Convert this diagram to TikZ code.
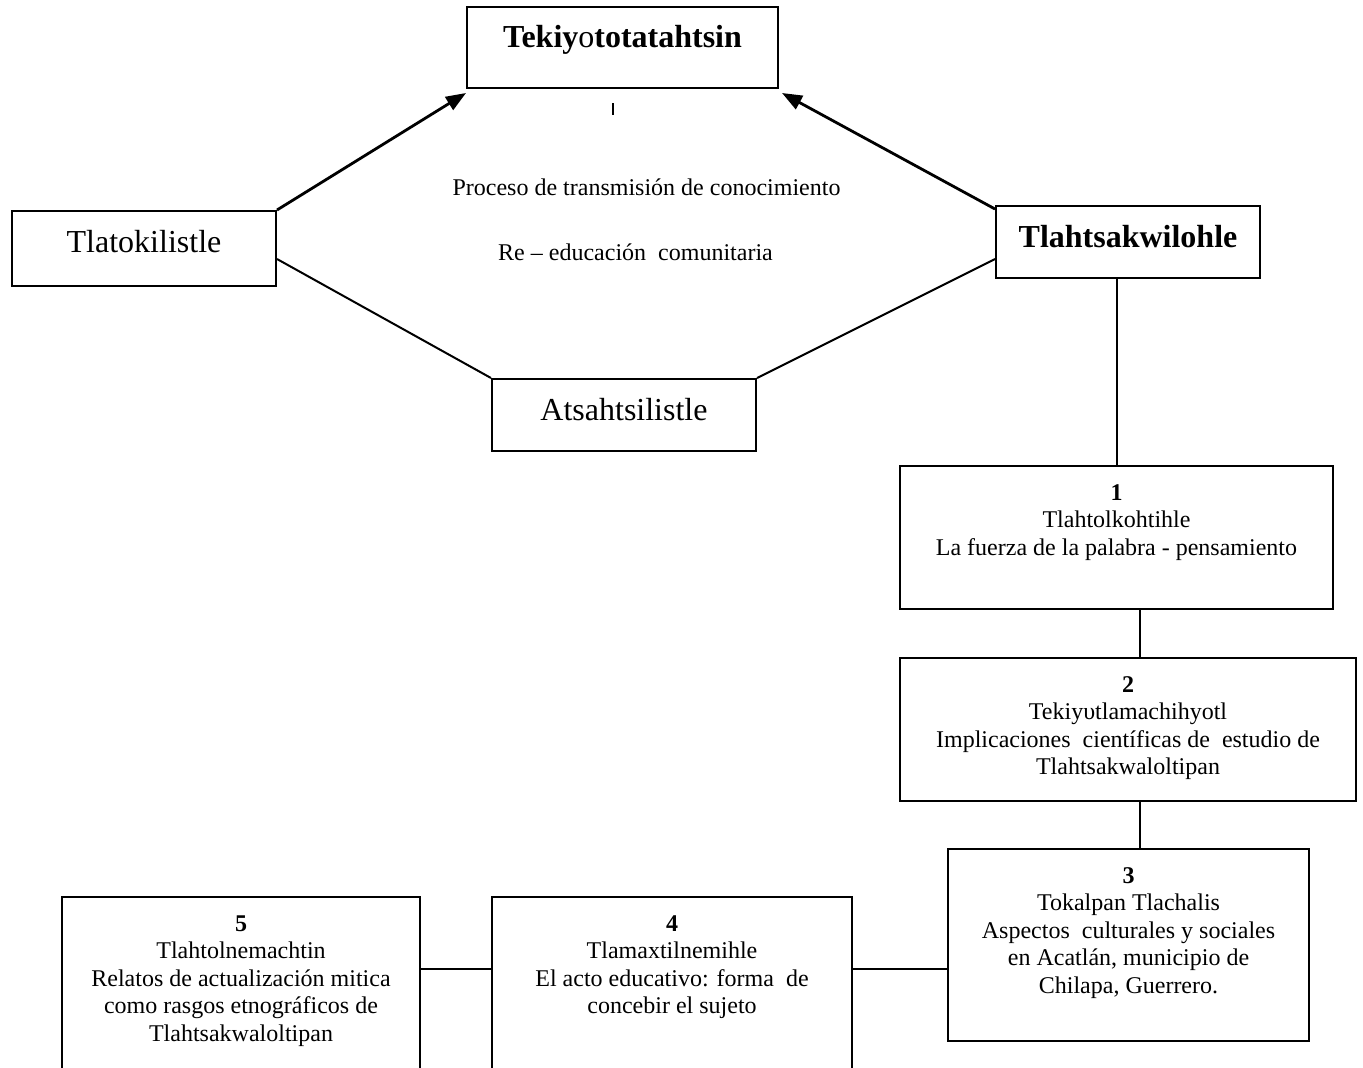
\documentclass[tikz,border=0pt]{standalone}
\usepackage{fontspec}
\setmainfont{Liberation Serif}
\usetikzlibrary{arrows.meta}
\newcommand{\textocaja}[4]{\parbox[c][#2][t]{#1}{\centering\rule{0pt}{#3}#4}}

\begin{document}
\begin{tikzpicture}[x=0.5pt, y=-0.5pt,
    caja/.style={draw, line width=1pt, inner sep=0pt},
    grande/.style={caja, font=\fontsize{16}{19}\selectfont},
    chica/.style={caja, font=\fontsize{12}{13.8}\selectfont},
    nota/.style={font=\fontsize{12}{13.8}\selectfont, anchor=base, inner sep=0pt},
    linea/.style={line width=1pt},
    flecha/.style={line width=1.4pt, -{Triangle[length=10pt,width=7.5pt]}}]
\clip (0,0) rectangle (1363,1067);

% parte de arriba
\node[grande] (titulo) at (622.5,47.5)
    {\textocaja{155.5pt}{40.5pt}{20pt}{\textbf{Tekiy}o\textbf{totatahtsin}}};
\node[grande] (tlatokilistle) at (144,248.5)
    {\textocaja{132pt}{37.5pt}{20.5pt}{Tlatokilistle}};
\node[grande] (tlahtsakwilohle) at (1128,242)
    {\textocaja{132pt}{36pt}{20.5pt}{\textbf{Tlahtsakwilohle}}};
\node[grande] (atsahtsilistle) at (624,415)
    {\textocaja{132pt}{36pt}{20.5pt}{Atsahtsilistle}};

\node[nota] (proceso) at (646.5,195) {Proceso de transmisión de conocimiento};
\node[nota] (reeducacion) at (635.5,260) {Re – educación\ \ comunitaria};
\coordinate (marca) at (613,103);
\draw[line width=0.7pt] (marca) -- ++(0,12);

\draw[flecha] (tlatokilistle.north east) -- ([yshift=-2pt]titulo.south west);
\draw[flecha] ([yshift=-2pt]tlahtsakwilohle.north west) -- ([xshift=1.5pt,yshift=-2pt]titulo.south east);
\draw[linea] ([yshift=-5.25pt]tlatokilistle.east) -- (atsahtsilistle.north west);
\draw[linea] ([yshift=-8.5pt]tlahtsakwilohle.west) -- (atsahtsilistle.north east);

% cajas numeradas
\node[chica] (caja1) at (1116.5,537.5)
    {\textocaja{216.5pt}{71.5pt}{17pt}{\textbf{1}\\Tlahtolkohtihle\\La fuerza de la palabra - pensamiento}};
\node[chica] (caja2) at (1128,729.5)
    {\textocaja{228pt}{71.5pt}{17pt}{\textbf{2}\\Tekiyυtlamachihyotl\\Implicaciones\ \ científicas de\ \ estudio de\\Tlahtsakwaloltipan}};
\node[chica] (caja3) at (1128.5,945)
    {\textocaja{180.5pt}{96pt}{17pt}{\textbf{3}\\Tokalpan Tlachalis\\Aspectos\ \ culturales y sociales\\en Acatlán, municipio de\\Chilapa, Guerrero.}};
\node[chica] (caja4) at (672,998.5)
    {\textocaja{180pt}{101.5pt}{17pt}{\textbf{4}\\Tlamaxtilnemihle\\El acto educativo: forma\ \ de\\concebir el sujeto}};
\node[chica] (caja5) at (241,998.5)
    {\textocaja{179pt}{101.5pt}{17pt}{\textbf{5}\\Tlahtolnemachtin\\Relatos de actualización mitica\\como rasgos etnográficos de\\Tlahtsakwaloltipan}};

\draw[linea] (caja1.north) -- (caja1.north |- tlahtsakwilohle.south);
\draw[linea] ([xshift=11.75pt]caja1.south) -- ([xshift=11.75pt]caja1.south |- caja2.north);
\draw[linea] ([xshift=6pt]caja2.south) -- ([xshift=6pt]caja2.south |- caja3.north);
\coordinate (enlace) at ([yshift=-12pt]caja3.west);
\draw[linea] (enlace) -- (enlace -| caja4.east);
\draw[linea] (caja4.west |- enlace) -- (caja5.east |- enlace);
\end{tikzpicture}
\end{document}
